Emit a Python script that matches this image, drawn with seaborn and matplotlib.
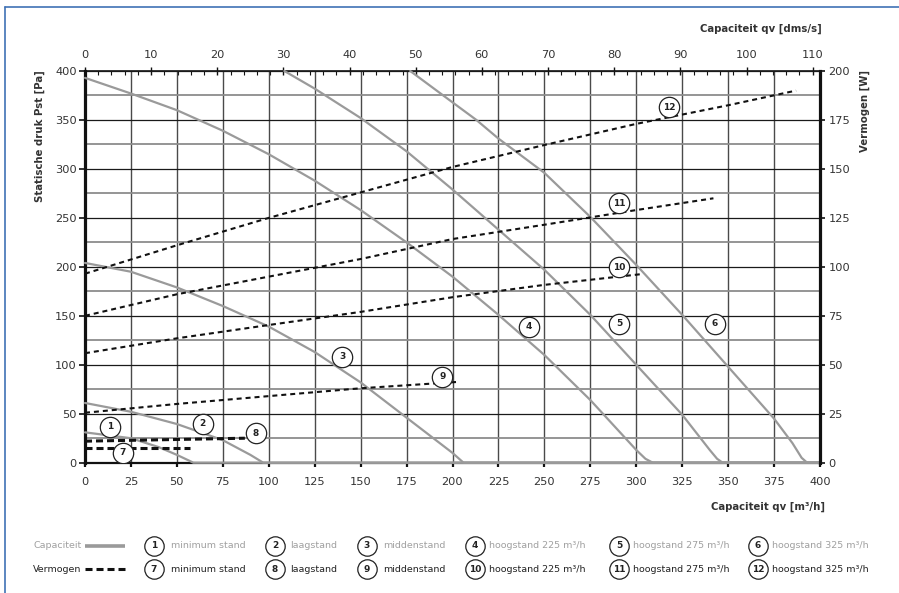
import matplotlib
matplotlib.use('Agg')
import numpy as np
import matplotlib.pyplot as plt
import seaborn as sns
from matplotlib.ticker import MultipleLocator

sns.set_theme(style='white')
plt.rcParams['font.family'] = ['DejaVu Sans']

GRAY = '#9a9a9a'
INK = '#333333'

# Capaciteit: qv [m3/h] -> Pst [Pa]
cap1_q = [0, 25, 40, 50, 59, 400]
cap1_p = [31, 25, 16, 8, 0, 0]
cap2_q = [0, 25, 50, 75, 90, 97, 400]
cap2_p = [61, 52, 39.5, 23, 8, 0, 0]
cap3_q = [0, 25, 50, 75, 100, 125, 150, 175, 200, 206, 400]
cap3_p = [204, 195, 179, 160, 139, 113, 82, 46, 10, 0, 0]
cap4_q = [0, 25, 50, 75, 100, 125, 150, 175, 200, 225, 250, 275, 300, 305, 309, 400]
cap4_p = [393, 377, 360, 339, 315, 288, 258, 225, 190, 151, 110, 64, 13, 4, 0, 0]
cap5_q = [108.5, 125, 150, 175, 200, 225, 250, 275, 300, 325, 340, 344, 347, 400]
cap5_p = [400, 382, 352, 318, 279, 238, 197, 151, 100, 49, 13, 4, 0, 0]
cap6_q = [177, 200, 213, 225, 250, 275, 300, 325, 350, 375, 385, 390, 393, 400]
cap6_p = [400, 368, 350, 331, 296, 251, 202, 151, 98, 45, 20, 5, 0, 0]

# Vermogen: qv [m3/h] -> P [W]
pw7_q = [0, 57]
pw7_w = [7.4, 7.4]
pw8_q = [0, 87]
pw8_w = [11.0, 12.5]
pw9_q = [0, 50, 100, 150, 202]
pw9_w = [25.5, 30, 34, 38, 41.2]
pw10_q = [0, 50, 100, 150, 200, 250, 302]
pw10_w = [55.9, 63.5, 70.3, 77, 84.5, 90.8, 96.2]
pw11_q = [0, 50, 100, 150, 200, 250, 300, 342]
pw11_w = [75, 86, 95, 104, 114.2, 121.5, 129, 135]
pw12_q = [0, 50, 100, 150, 200, 250, 300, 350, 387]
pw12_w = [96.5, 111, 125, 138, 151, 162.2, 173, 182.5, 190]

# curve numbers (placed in qv / Pst coordinates)
label_num = ['1', '2', '3', '4', '5', '6', '7', '8', '9', '10', '11', '12']
label_q = [13.6, 64, 140, 241.6, 290.6, 342.7, 20.5, 93, 194.4, 290.6, 290.6, 317.8]
label_p = [36.8, 40, 108, 139, 142, 142, 10.2, 30, 87.8, 199.5, 265, 363]

stand_names = ['minimum stand', 'laagstand', 'middenstand',
               'hoogstand 225 m³/h', 'hoogstand 275 m³/h', 'hoogstand 325 m³/h']

q_ticks = np.arange(0, 401, 25)
p_ticks = np.arange(0, 401, 50)
w_ticks = np.arange(0, 201, 25)
dms_ticks = np.arange(0, 111, 10)

W, H = 899, 593
fig = plt.figure(figsize=(W / 100, H / 100), dpi=100)
ax = fig.add_axes([85 / W, 1 - 462.7 / H, 735 / W, 391.7 / H])

# grid
ax.set_xlim(0, 400)
ax.set_ylim(0, 400)
ax.set_xticks(q_ticks)
ax.set_yticks(p_ticks)
ax.yaxis.set_minor_locator(MultipleLocator(25))
ax.set_axisbelow(True)
ax.grid(axis='x', which='major', color='#4a4a4a', lw=1.0)
ax.grid(axis='y', which='major', color='#1a1a1a', lw=0.9)
ax.grid(axis='y', which='minor', color='#8c8c8c', lw=1.3)
ax.tick_params(axis='y', which='minor', length=0, left=False)
ax.tick_params(axis='x', which='major', bottom=True, direction='out', length=3,
               width=1.6, pad=7, labelsize=8.2, labelcolor=INK, color='#111')
ax.tick_params(axis='y', which='major', left=True, direction='out', length=4.5,
               width=1.2, pad=1.5, labelsize=8.2, labelcolor=INK, color='#111')
ax.spines['left'].set_linewidth(2.3)
ax.spines['left'].set_color('#111')
ax.spines['bottom'].set_linewidth(1.6)
ax.spines['bottom'].set_color('#111')
ax.spines['top'].set_visible(False)
ax.spines['right'].set_visible(False)

caps = [(cap1_q, cap1_p), (cap2_q, cap2_p), (cap3_q, cap3_p),
        (cap4_q, cap4_p), (cap5_q, cap5_p), (cap6_q, cap6_p)]
for q, p in caps:
    sns.lineplot(x=q, y=p, ax=ax, color=GRAY, linewidth=1.6,
                 estimator=None, clip_on=False, zorder=3)
ax.set_xlabel('')
ax.set_ylabel('')

# right axis: Vermogen
ax2 = ax.twinx()
powers = [(pw7_q, pw7_w, 2.2, (0, (2.3, 1.3))),
          (pw8_q, pw8_w, 2.2, (0, (2.3, 1.3))),
          (pw9_q, pw9_w, 1.5, (0, (2.4, 1.9))),
          (pw10_q, pw10_w, 1.5, (0, (2.4, 1.9))),
          (pw11_q, pw11_w, 1.5, (0, (2.4, 1.9))),
          (pw12_q, pw12_w, 1.5, (0, (2.4, 1.9)))]
for q, w, lw, ls in powers:
    sns.lineplot(x=q, y=w, ax=ax2, color='#111111', linewidth=lw,
                 linestyle=ls, estimator=None)

ax2.scatter(label_q, label_p, s=215, facecolor='white', edgecolor='#222',
            linewidth=0.9, zorder=5, transform=ax.transData)
for n, q, p in zip(label_num, label_q, label_p):
    ax2.text(q, p, n, transform=ax.transData, ha='center', va='center',
             fontsize=6.5, weight='bold', color='#222', zorder=6)

ax2.set_xlim(0, 400)
ax2.set_ylim(0, 200)
ax2.set_yticks(w_ticks)
ax2.set_xlabel('')
ax2.set_ylabel('')
ax2.grid(False)
for side in ['left', 'top', 'bottom']:
    ax2.spines[side].set_visible(False)
ax2.spines['right'].set_linewidth(2.3)
ax2.spines['right'].set_color('#111')
ax2.tick_params(axis='y', right=True, direction='out', length=3.5, width=1.2,
                pad=2.5, labelsize=8.2, labelcolor=INK, color='#111')

# top axis in dm3/s
secax = ax.secondary_xaxis('top', functions=(lambda v: v / 3.6, lambda v: v * 3.6))
secax.set_xticks(dms_ticks)
secax.xaxis.set_minor_locator(MultipleLocator(2))
secax.tick_params(which='major', top=True, direction='inout', length=6, width=1.0,
                  pad=5, labelsize=8.2, labelcolor=INK, color='#111')
secax.tick_params(which='minor', top=True, direction='in', length=3, width=0.8,
                  color='#111')
secax.spines['top'].set_linewidth(1.2)
secax.spines['top'].set_color('#111')

# overlay in pixel coordinates: frame, titles, legend
fa = fig.add_axes([0, 0, 1, 1])
fa.set_xlim(0, W)
fa.set_ylim(H, 0)
fa.axis('off')
fa.patch.set_alpha(0)
fa.plot([4.5, W], [7, 7], color='#3f72b5', lw=1.2)
fa.plot([4.5, 4.5], [7, H], color='#3f72b5', lw=1.2)

fa.text(822, 29, 'Capaciteit qv [dms/s]', ha='right', va='center',
        fontsize=7.3, weight='bold', color=INK)
fa.text(825, 507, 'Capaciteit qv [m³/h]', ha='right', va='center',
        fontsize=7.3, weight='bold', color=INK)
fa.text(40, 70, 'Statische druk Pst [Pa]', rotation=90, ha='center', va='top',
        fontsize=7.3, weight='bold', color=INK)
fa.text(865, 70, 'Vermogen [W]', rotation=90, ha='center', va='top',
        fontsize=7.3, weight='bold', color=INK)

rows = [(546, 'Capaciteit', '#a0a0a0', label_num[:6]),
        (569, 'Vermogen', '#222222', label_num[6:])]
circle_x = [154, 275, 367, 475, 619, 758]
text_x = [171, 290, 383, 489, 633, 772]
for y, name, col, nums in rows:
    fa.text(33, y, name, ha='left', va='center', fontsize=6.8, color=col)
    for cx, tx, n, s in zip(circle_x, text_x, nums, stand_names):
        fa.scatter([cx], [y], s=195, facecolor='white', edgecolor='#222', linewidth=0.9)
        fa.text(cx, y, n, ha='center', va='center', fontsize=6.5,
                weight='bold', color='#222')
        fa.text(tx, y, s, ha='left', va='center', fontsize=6.8, color=col)
fa.plot([85, 125], [546, 546], color=GRAY, lw=2.6, solid_capstyle='butt')
fa.plot([85, 125], [569, 569], color='#111', lw=2.2, linestyle=(0, (2.3, 1.3)))
fa.set_xlim(0, W)
fa.set_ylim(H, 0)

fig.savefig('out.png', dpi=100)
